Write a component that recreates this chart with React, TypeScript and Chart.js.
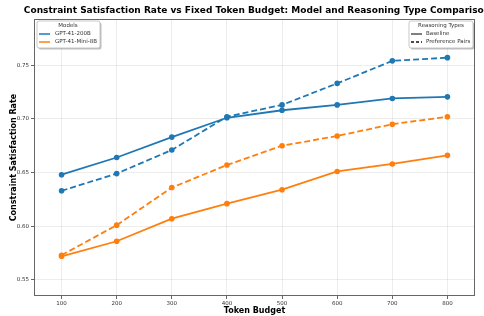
import React, { useEffect, useRef } from "react";
import { Chart, registerables } from "chart.js";

Chart.register(...registerables);

const budgets = [100, 200, 300, 400, 500, 600, 700, 800];
const big_baseline = [0.648, 0.664, 0.683, 0.701, 0.708, 0.713, 0.719, 0.7205];
const big_pref = [0.633, 0.649, 0.671, 0.702, 0.713, 0.733, 0.754, 0.757];
const mini_baseline = [0.572, 0.586, 0.607, 0.621, 0.634, 0.651, 0.658, 0.666];
const mini_pref = [0.573, 0.601, 0.636, 0.657, 0.675, 0.684, 0.695, 0.702];
const yTicks = [0.55, 0.6, 0.65, 0.7, 0.75];
const xTicks = budgets;

const BLUE = "#1f77b4";
const ORANGE = "#ff7f0e";
const FONT = "'DejaVu Sans', sans-serif";

const toPts = (ys: number[]) => budgets.map((x, i) => ({ x, y: ys[i] }));

function drawBox(ctx: CanvasRenderingContext2D, x: number, y: number, w: number, h: number) {
  ctx.save();
  ctx.fillStyle = "rgba(0,0,0,0.25)";
  roundRect(ctx, x + 1.5, y + 1.5, w, h, 2);
  ctx.fill();
  ctx.fillStyle = "#fff";
  ctx.strokeStyle = "#bbb";
  ctx.lineWidth = 0.8;
  roundRect(ctx, x, y, w, h, 2);
  ctx.fill();
  ctx.stroke();
  ctx.restore();
}
function roundRect(ctx: CanvasRenderingContext2D, x: number, y: number, w: number, h: number, r: number) {
  ctx.beginPath();
  ctx.moveTo(x + r, y);
  ctx.lineTo(x + w - r, y);
  ctx.quadraticCurveTo(x + w, y, x + w, y + r);
  ctx.lineTo(x + w, y + h - r);
  ctx.quadraticCurveTo(x + w, y + h, x + w - r, y + h);
  ctx.lineTo(x + r, y + h);
  ctx.quadraticCurveTo(x, y + h, x, y + h - r);
  ctx.lineTo(x, y + r);
  ctx.quadraticCurveTo(x, y, x + r, y);
  ctx.closePath();
}

const decor = {
  id: "decor",
  afterDraw(chart: any) {
    const ctx: CanvasRenderingContext2D = chart.ctx;
    const a = chart.chartArea;
    ctx.save();
    ctx.strokeStyle = "#666";
    ctx.lineWidth = 1;
    ctx.strokeRect(a.left + 0.5, a.top + 0.5, a.right - a.left - 1, a.bottom - a.top - 1);
    ctx.fillStyle = "#000";
    ctx.font = `bold 9px ${FONT}`;
    ctx.textAlign = "center";
    ctx.textBaseline = "middle";
    ctx.fillText("Constraint Satisfaction Rate vs Fixed Token Budget: Model and Reasoning Type Comparison", 257, 11);
    drawBox(ctx, 37, 21, 63, 27);
    ctx.font = `5.5px ${FONT}`;
    ctx.fillStyle = "#333";
    ctx.fillText("Models", 68, 25.5);
    ctx.textAlign = "left";
    ctx.lineWidth = 1.5;
    ctx.strokeStyle = BLUE;
    ctx.beginPath(); ctx.moveTo(39, 34); ctx.lineTo(50, 34); ctx.stroke();
    ctx.strokeStyle = ORANGE;
    ctx.beginPath(); ctx.moveTo(39, 42); ctx.lineTo(50, 42); ctx.stroke();
    ctx.fillText("GPT-41-200B", 55, 34);
    ctx.fillText("GPT-41-Mini-8B", 55, 42);
    drawBox(ctx, 409, 21, 64, 27);
    ctx.textAlign = "center";
    ctx.fillStyle = "#333";
    ctx.fillText("Reasoning Types", 441, 25.5);
    ctx.textAlign = "left";
    ctx.strokeStyle = "#555";
    ctx.beginPath(); ctx.moveTo(411, 34); ctx.lineTo(422, 34); ctx.stroke();
    ctx.strokeStyle = "#111";
    ctx.setLineDash([3, 2]);
    ctx.beginPath(); ctx.moveTo(411, 42); ctx.lineTo(422, 42); ctx.stroke();
    ctx.setLineDash([]);
    ctx.fillText("Baseline", 426, 34);
    ctx.fillText("Preference Pairs", 426, 42);
    ctx.restore();
  },
};

export default function App() {
  const ref = useRef<HTMLCanvasElement>(null);
  useEffect(() => {
    const ds = (label: string, data: number[], color: string, dashed: boolean) => ({
      label,
      data: toPts(data),
      borderColor: color,
      backgroundColor: color,
      borderWidth: 1.8,
      borderDash: dashed ? [6, 3] : [],
      pointRadius: 2.8,
      pointHoverRadius: 2.8,
      pointBorderWidth: 0,
      tension: 0,
    });
    const chart = new Chart(ref.current!, {
      type: "line",
      data: {
        datasets: [
          ds("GPT-41-200B Baseline", big_baseline, BLUE, false),
          ds("GPT-41-200B Preference Pairs", big_pref, BLUE, true),
          ds("GPT-41-Mini-8B Baseline", mini_baseline, ORANGE, false),
          ds("GPT-41-Mini-8B Preference Pairs", mini_pref, ORANGE, true),
        ],
      },
      options: {
        animation: false,
        responsive: false,
        layout: { padding: { top: 19, right: 9, left: 0, bottom: 0 } },
        plugins: { legend: { display: false }, tooltip: { enabled: false }, title: { display: false } },
        scales: {
          x: {
            type: "linear",
            min: 50,
            max: 850,
            afterBuildTicks: (s: any) => { s.ticks = xTicks.map((v) => ({ value: v })); },
            afterFit: (s: any) => { s.height = 20; },
            grid: { color: "rgba(0,0,0,0.07)", tickLength: 3, tickColor: "#666", drawTicks: true },
            border: { display: false },
            ticks: { font: { family: FONT, size: 5.5 }, color: "#333", padding: 1, maxRotation: 0 },
            title: { display: true, text: "Token Budget", font: { family: FONT, size: 8, weight: "bold" }, color: "#000", padding: { top: 0, bottom: 0 } },
          },
          y: {
            type: "linear",
            min: 0.535,
            max: 0.793,
            afterBuildTicks: (s: any) => { s.ticks = yTicks.map((v) => ({ value: v })); },
            afterFit: (s: any) => { s.width = 34; },
            grid: { color: "rgba(0,0,0,0.07)", tickLength: 3, tickColor: "#666" },
            border: { display: false },
            ticks: { font: { family: FONT, size: 5.5 }, color: "#333", padding: 2, callback: (v: any) => Number(v).toFixed(2) },
            title: { display: true, text: "Constraint Satisfaction Rate", font: { family: FONT, size: 8, weight: "bold" }, color: "#000", padding: { top: 9, bottom: 2 } },
          },
        },
      },
      plugins: [decor],
    });
    return () => chart.destroy();
  }, []);
  return (
    <div style={{ position: "fixed", left: 0, top: 0, width: 484, height: 316, background: "#fff" }}>
      <canvas ref={ref} width={484} height={316} style={{ width: 484, height: 316 }} />
    </div>
  );
}
